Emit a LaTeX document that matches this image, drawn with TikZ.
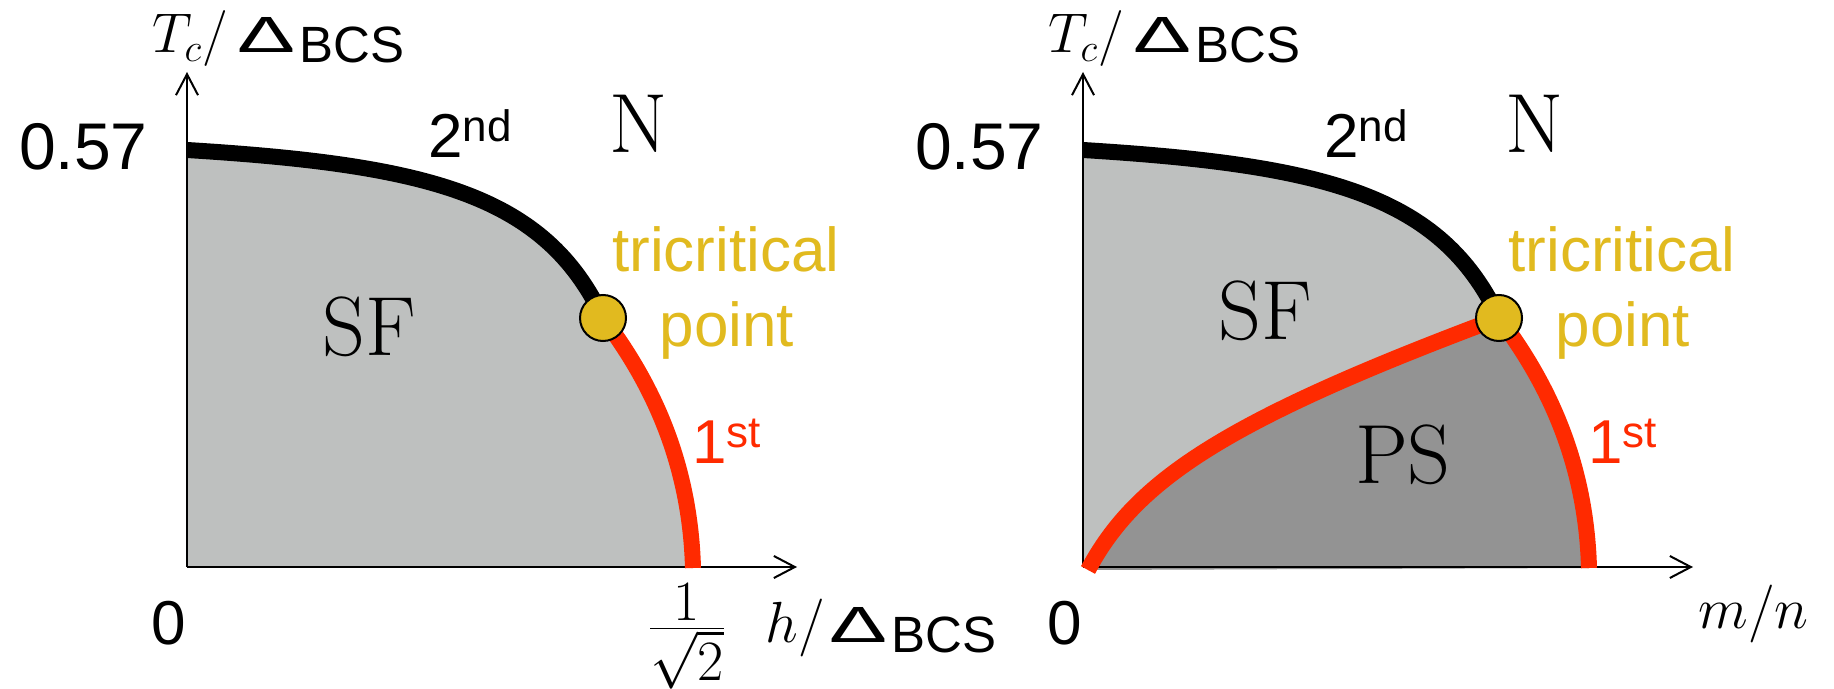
\RequirePackage{fix-cm}
\documentclass[tikz,border=0pt]{standalone}
\usepackage{fontspec}
\usepackage{graphicx}
\newfontfamily\hv{Liberation Sans}
\usetikzlibrary{arrows.meta}
\definecolor{sfgray}{HTML}{BEC0BF}
\definecolor{psgray}{HTML}{939393}
\definecolor{trired}{HTML}{FF2A00}
\definecolor{trigold}{HTML}{E1BA1F}
\newcommand{\dBCS}{\resizebox{29pt}{17.5pt}{\hv\fontsize{22}{24}\selectfont Δ}\hspace{2pt}\raisebox{-5pt}{\hv\fontsize{25.5}{28}\selectfont BCS}}
\newcommand{\ordsup}[1]{\raisebox{8pt}{\fontsize{22}{24}\selectfont #1}}
% phase boundaries (left-panel coordinates, in reference pixels)
\newcommand{\lnSecond}{.. controls (430,165) and (545,195) .. (603,318)}
\newcommand{\lnFirst}{.. controls (650,380) and (690,460) .. (693,568)}
\newcommand{\lnPS}{.. controls (240,480) and (330,420) .. (603,318)}
\begin{document}
\begin{tikzpicture}[x=0.5pt,y=-0.5pt,line cap=butt,
  phaseline/.style={line width=8pt},
  axisline/.style={line width=1pt,-{Straight Barb[length=10.5pt,width=11pt]}},
  sans/.style={font=\hv\fontsize{31}{37}\selectfont,inner sep=0pt},
  roman/.style={font=\fontsize{42}{50}\selectfont,inner sep=0pt},
  mathlab/.style={inner sep=0pt},
  tcpoint/.style={circle,draw=black,line width=1pt,fill=trigold,minimum size=23pt,inner sep=0pt}]
\useasboundingbox (0,0) rectangle (1834,689);
% ---------------- left panel ----------------
\fill[sfgray] (187,567) -- (187,150) \lnSecond \lnFirst -- cycle;
\coordinate (O1) at (187,567);
\coordinate (Y1) at (187,72);
\coordinate (X1) at (797,567);
\draw[axisline] (O1) -- (Y1);
\draw[axisline] (O1) -- (X1);
\draw[phaseline] (187,150) \lnSecond;
\draw[phaseline,trired] (603,318) \lnFirst;
\node[tcpoint] (tcp1) at (603,318) {};
\node[mathlab,anchor=base west,font=\fontsize{28}{32}\selectfont] (ylab1) at (152,53) {$T_c/$\hspace{5pt}\dBCS};
\node[sans,anchor=base east,font=\hv\fontsize{33}{38}\selectfont] (v571) at (148,170) {0.57};
\node[sans,anchor=base] (zero1) at (169,644) {0};
\node[sans,anchor=base west] (sec1) at (428,158) {2\ordsup{nd}};
\node[roman,anchor=base] (N1) at (639,153) {N};
\node[roman,anchor=base] (SF1) at (369,356) {SF};
\node[sans,anchor=base,text=trigold] (tri1) at (726,272) {tricritical};
\node[sans,anchor=base,text=trigold] (pt1) at (727,347) {point};
\node[sans,anchor=base west,text=trired] (fst1) at (692,463) {1\ordsup{st}};
\node[mathlab,anchor=base,font=\fontsize{28.5}{34}\selectfont] (frac1) at (687,643) {$\textstyle\frac{\textstyle 1}{\textstyle\sqrt{2}}$};
\node[mathlab,anchor=base west,font=\fontsize{29}{34}\selectfont] (xlab1) at (765,642) {$h/$\hspace{2.5pt}\dBCS};
% ---------------- right panel ----------------
\begin{scope}[shift={(896,0)}]
\fill[sfgray] (187,567) -- (187,150) \lnSecond \lnFirst -- cycle;
\fill[psgray] (192,570) \lnPS \lnFirst -- cycle;
\coordinate (O2) at (187,567);
\coordinate (Y2) at (187,72);
\coordinate (X2) at (797,567);
\draw[axisline] (O2) -- (Y2);
\draw[axisline] (O2) -- (X2);
\draw[phaseline] (187,150) \lnSecond;
\draw[phaseline,trired] (603,318) \lnFirst;
\draw[phaseline,trired] (192,570) \lnPS;
\node[tcpoint] (tcp2) at (603,318) {};
\node[mathlab,anchor=base west,font=\fontsize{28}{32}\selectfont] (ylab2) at (152,53) {$T_c/$\hspace{5pt}\dBCS};
\node[sans,anchor=base east,font=\hv\fontsize{33}{38}\selectfont] (v572) at (148,170) {0.57};
\node[sans,anchor=base] (zero2) at (169,644) {0};
\node[sans,anchor=base west] (sec2) at (428,158) {2\ordsup{nd}};
\node[roman,anchor=base] (N2) at (639,153) {N};
\node[roman,anchor=base] (SF2) at (369,340) {SF};
\node[roman,anchor=base] (PS2) at (507,483) {PS};
\node[sans,anchor=base,text=trigold] (tri2) at (726,272) {tricritical};
\node[sans,anchor=base,text=trigold] (pt2) at (727,347) {point};
\node[sans,anchor=base west,text=trired] (fst2) at (692,463) {1\ordsup{st}};
\node[mathlab,anchor=base west,font=\fontsize{29}{34}\selectfont] (xlab2) at (802,628) {$m/n$};
\end{scope}
\end{tikzpicture}
\end{document}
